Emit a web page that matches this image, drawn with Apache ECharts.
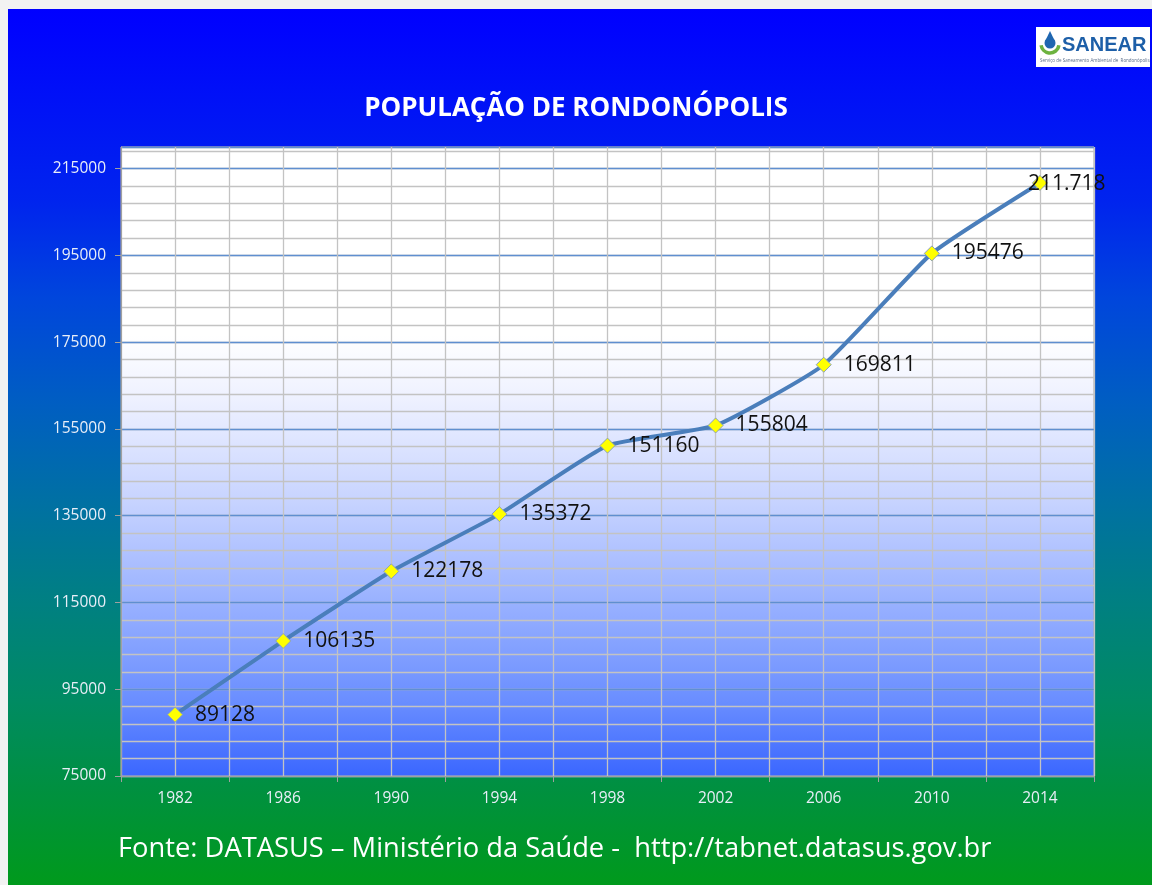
<!DOCTYPE html>
<html>
<head>
<meta charset="utf-8">
<script src="https://cdn.jsdelivr.net/npm/echarts@6/dist/echarts.min.js"></script>
<style>
html,body{margin:0;padding:0;background:#f2f2f2;}
#c{width:1152px;height:885px;}
</style>
</head>
<body>
<div id="c"></div>
<script>
var years = ['1982','1986','1990','1994','1998','2002','2006','2010','2014'];
var population = [89128, 106135, 122178, 135372, 151160, 155804, 169811, 195476, 211718];
var pointLabels = ['89128','106135','122178','135372','151160','155804','169811','195476','211.718'];
var yMin = 75000, yMax = 220000, yMajor = 20000, yMinor = 4000;

var chart = echarts.init(document.getElementById('c'));
var G = echarts.graphic;
var font = '"Open Sans", "Noto Sans", sans-serif';

var seriesData = population.map(function (v, i) {
  var d = { value: v, label: { formatter: pointLabels[i] } };
  if (i === population.length - 1) { d.label.offset = [-32, 1]; }
  return d;
});

var option = {
  backgroundColor: '#f2f2f2',
  animation: false,
  title: {
    text: 'POPULAÇÃO DE RONDONÓPOLIS',
    left: 'center',
    top: 91,
    textStyle: { color: '#ffffff', fontSize: 26, fontWeight: 'bold', fontFamily: font }
  },
  graphic: [
    {
      type: 'rect', z: -100, silent: true,
      shape: { x: 8, y: 9, width: 1144, height: 876 },
      style: {
        fill: new G.LinearGradient(0, 0, 0, 1, [
          { offset: 0, color: '#0000ff' },
          { offset: 0.22, color: '#0024ee' },
          { offset: 0.33, color: '#0046dc' },
          { offset: 0.45, color: '#005ec2' },
          { offset: 0.56, color: '#0070a4' },
          { offset: 0.67, color: '#007f84' },
          { offset: 0.79, color: '#008b62' },
          { offset: 0.89, color: '#009040' },
          { offset: 1, color: '#009a1c' }
        ])
      }
    },
    {
      type: 'text', x: 118, y: 836, z: 10,
      style: {
        text: 'Fonte: DATASUS – Ministério da Saúde -  http://tabnet.datasus.gov.br',
        fill: '#ffffff', fontSize: 27.3, fontFamily: font
      }
    },
    {
      type: 'group', x: 1036, y: 27, z: 10,
      children: [
        { type: 'rect', shape: { x: 0, y: 0, width: 114, height: 40 }, style: { fill: '#ffffff' } },
        { type: 'arc', shape: { cx: 14, cy: 17, r: 9, startAngle: 0.15, endAngle: Math.PI - 0.15 }, style: { stroke: '#6db33f', lineWidth: 3.5, fill: null } },
        { type: 'circle', shape: { cx: 14, cy: 16, r: 5.5 }, style: { fill: '#1f66b0' } },
        { type: 'polygon', shape: { points: [[14, 4], [9.2, 14], [18.8, 14]] }, style: { fill: '#1f66b0' } },
        { type: 'text', style: { x: 26, y: 8, text: 'SANEAR', fill: '#1d5fa8', fontSize: 20, fontWeight: 'bold', fontFamily: '"Liberation Sans", Arial, sans-serif' } },
        { type: 'text', style: { x: 4, y: 31, text: 'Serviço de Saneamento Ambiental de  Rondonópolis', fill: '#5a6e8a', fontSize: 4.5, fontFamily: font } }
      ]
    }
  ],
  grid: {
    left: 121, right: 58, top: 147, bottom: 109,
    show: true,
    borderColor: '#a6a6a6', borderWidth: 1,
    backgroundColor: new G.LinearGradient(0, 0, 0, 1, [
      { offset: 0, color: '#ffffff' },
      { offset: 0.3, color: '#ffffff' },
      { offset: 0.4, color: '#eef1ff' },
      { offset: 0.56, color: '#c8d4ff' },
      { offset: 0.72, color: '#9ab2ff' },
      { offset: 0.88, color: '#6a8eff' },
      { offset: 1, color: '#3a66ff' }
    ])
  },
  xAxis: [
    {
      type: 'value', min: 0, max: years.length * 2, interval: 1,
      position: 'bottom', show: true,
      axisLine: { show: false }, axisTick: { show: false }, axisLabel: { show: false },
      splitLine: { show: true, lineStyle: { color: '#c3c3c3', width: 1.3 } }
    },
    {
      type: 'category', data: years, boundaryGap: true, position: 'bottom',
      axisLine: { lineStyle: { color: '#a0a0a0', width: 1 } },
      axisTick: { show: true, length: 6, lineStyle: { color: '#a0a0a0' } },
      axisLabel: { color: '#e8eef8', fontSize: 15.5, fontFamily: font, margin: 15 },
      splitLine: { show: false }
    }
  ],
  yAxis: [
    {
      type: 'value', min: yMin, max: yMax, interval: yMinor, position: 'left',
      axisLine: { show: false }, axisTick: { show: false }, axisLabel: { show: false },
      splitLine: { show: true, lineStyle: { color: '#c3c3c3', width: 1.3 } }
    },
    {
      type: 'value', min: yMin, max: yMax, interval: yMajor, position: 'left',
      axisLine: { show: true, lineStyle: { color: '#a0a0a0' } },
      axisTick: { show: true, length: 6, lineStyle: { color: '#a0a0a0' } },
      axisLabel: { color: '#e8eef8', fontSize: 15.5, fontFamily: font, margin: 15, showMaxLabel: false,
        formatter: function (v) { return v === yMax ? '' : String(v); } },
      splitLine: { show: true, lineStyle: { color: '#5f8fd0', width: 1.3 } }
    }
  ],
  series: [
    {
      type: 'line', xAxisIndex: 1, yAxisIndex: 1, z: 10,
      data: seriesData,
      smooth: 0.15,
      lineStyle: { color: '#4a7ebb', width: 4 },
      symbol: 'diamond', symbolSize: 15,
      itemStyle: { color: '#ffff00', borderColor: '#8aa0b8', borderWidth: 1 },
      label: { show: true, position: 'right', distance: 12, color: '#111111', fontSize: 21, fontFamily: font }
    }
  ]
};
chart.setOption(option);
</script>
</body>
</html>
